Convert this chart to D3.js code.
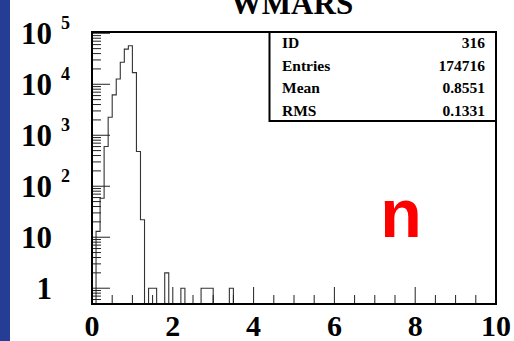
<!DOCTYPE html>
<html>
<head>
<meta charset="utf-8">
<script src="https://cdn.jsdelivr.net/npm/d3@7"></script>
<style>
  body { margin: 0; background: #fff; }
  svg { display: block; }
</style>
</head>
<body>
<div id="chart"></div>
<script>
// Histogram WMARS: 100 bins from 0 to 10 (bin width 0.1)
var binCounts = [
    0, 13, 58, 600, 2250, 6200, 12700, 27000, 49000, 57000,
    16900, 480, 22, 0, 1, 1, 0, 0, 2, 0,
    0, 0, 1, 0, 0, 0, 0, 1, 1, 1,
    0, 0, 0, 0, 1, 0, 0, 0, 0, 0,
    0, 0, 0, 0, 0, 0, 0, 0, 0, 0,
    0, 0, 0, 0, 0, 0, 0, 0, 0, 0,
    0, 0, 0, 0, 0, 0, 0, 0, 0, 0,
    0, 0, 0, 0, 0, 0, 0, 0, 0, 0,
    0, 0, 0, 0, 0, 0, 0, 0, 0, 0,
    0, 0, 0, 0, 0, 0, 0, 0, 0, 0
];
var xMin = 0, xMax = 10;
var xTickLabels = [0, 2, 4, 6, 8, 10];
var yDecades = [1, 10, 100, 1000, 10000, 100000];
var yDecadeExp = ["", "", "2", "3", "4", "5"];
var yDecadeBase = ["1", "10", "10", "10", "10", "10"];
var statLabels = ["ID", "Entries", "Mean", "RMS"];
var statValues = ["316", "174716", "0.8551", "0.1331"];
var title = "WMARS";
var particle = "n";

var W = 514, H = 341;
var margin = { top: 32, right: 18, bottom: 37, left: 92 };
var serif = "'Liberation Serif', 'Times New Roman', serif";

var svg = d3.select("#chart").append("svg")
    .attr("width", W)
    .attr("height", H);

// blue slide strip on the left
svg.append("rect")
    .attr("x", 0).attr("y", 0)
    .attr("width", 10).attr("height", H)
    .attr("fill", "#263d96");

var x = d3.scaleLinear()
    .domain([xMin, xMax])
    .range([margin.left, W - margin.right]);

var y = d3.scaleLog()
    .domain([0.49, 1.06e5])
    .range([H - margin.bottom, margin.top]);

var x0 = x.range()[0], x1 = x.range()[1];
var yb = y.range()[0], yt = y.range()[1];

// histogram outline (step)
var binW = (xMax - xMin) / binCounts.length;
var pts = [];
binCounts.forEach(function (c, i) {
    pts.push([xMin + i * binW, c]);
});
pts.push([xMax, 0]);

var line = d3.line()
    .x(function (d) { return x(d[0]); })
    .y(function (d) { return d[1] > 0 ? y(d[1]) : yb; })
    .curve(d3.curveStepAfter);

svg.append("path")
    .datum([[xMin, 0]].concat(pts))
    .attr("d", line)
    .attr("fill", "none")
    .attr("stroke", "#333")
    .attr("stroke-width", 1.1);

// y ticks (inside, log minors)
var yTickVals = [];
[0.1, 1, 10, 100, 1000, 10000, 100000].forEach(function (dec) {
    for (var k = 1; k <= 9; k++) {
        var v = dec * k;
        if (v >= y.domain()[0] && v <= y.domain()[1]) yTickVals.push({ v: v, major: k === 1 });
    }
});
svg.append("g").selectAll("line")
    .data(yTickVals)
    .enter().append("line")
    .attr("x1", x0)
    .attr("x2", function (d) { return x0 + (d.major ? 18 : 9); })
    .attr("y1", function (d) { return y(d.v); })
    .attr("y2", function (d) { return y(d.v); })
    .attr("stroke", "#222")
    .attr("stroke-width", 1);

// x ticks (inside, every 0.5)
var xTickVals = d3.range(0, 10.01, 0.5);
svg.append("g").selectAll("line")
    .data(xTickVals)
    .enter().append("line")
    .attr("x1", function (d) { return x(d); })
    .attr("x2", function (d) { return x(d); })
    .attr("y1", yb)
    .attr("y2", function (d) { return yb - (d % 2 === 0 ? 17 : 9); })
    .attr("stroke", "#222")
    .attr("stroke-width", 1);

// frame
svg.append("rect")
    .attr("x", x0).attr("y", yt)
    .attr("width", x1 - x0).attr("height", yb - yt)
    .attr("fill", "none")
    .attr("stroke", "#000")
    .attr("stroke-width", 2);

// x tick labels
svg.append("g").selectAll("text")
    .data(xTickLabels)
    .enter().append("text")
    .attr("x", function (d) { return x(d); })
    .attr("y", 336)
    .attr("text-anchor", "middle")
    .style("font-family", serif)
    .style("font-weight", "bold")
    .style("font-size", "30px")
    .text(function (d) { return d; });

// y tick labels: "10" with exponent
var yl = svg.append("g").selectAll("g")
    .data(yDecades)
    .enter().append("g");

yl.append("text")
    .attr("x", 52)
    .attr("y", function (d) { return y(d) + 11; })
    .attr("text-anchor", "end")
    .style("font-family", serif)
    .style("font-weight", "bold")
    .style("font-size", "31px")
    .text(function (d, i) { return yDecadeBase[i]; });

yl.append("text")
    .attr("x", 61)
    .attr("y", function (d) { return y(d) - 4; })
    .style("font-family", serif)
    .style("font-weight", "bold")
    .style("font-size", "18px")
    .text(function (d, i) { return yDecadeExp[i]; });

// title (cut off at top, as in the slide)
svg.append("text")
    .attr("x", 292)
    .attr("y", 14)
    .attr("text-anchor", "middle")
    .style("font-family", serif)
    .style("font-weight", "bold")
    .style("font-size", "31px")
    .text(title);

// stats box
var boxX = 269.5, boxY = yt, boxW = x1 - 269.5, boxH = 89;
svg.append("rect")
    .attr("x", boxX).attr("y", boxY)
    .attr("width", boxW).attr("height", boxH)
    .attr("fill", "#fff")
    .attr("stroke", "#000")
    .attr("stroke-width", 2);

statLabels.forEach(function (lab, i) {
    var by = 48 + i * 22.5;
    svg.append("text")
        .attr("x", 282)
        .attr("y", by)
        .style("font-family", serif)
        .style("font-weight", "bold")
        .style("font-size", "15.5px")
        .text(lab);
    svg.append("text")
        .attr("x", 485)
        .attr("y", by)
        .attr("text-anchor", "end")
        .style("font-family", serif)
        .style("font-weight", "bold")
        .style("font-size", "15.5px")
        .text(statValues[i]);
});

// particle label
svg.append("text")
    .attr("x", 401)
    .attr("y", 237)
    .attr("text-anchor", "middle")
    .style("font-family", "'Liberation Sans', Arial, sans-serif")
    .style("font-weight", "bold")
    .style("font-size", "68px")
    .attr("fill", "#ff0000")
    .text(particle);
</script>
</body>
</html>
